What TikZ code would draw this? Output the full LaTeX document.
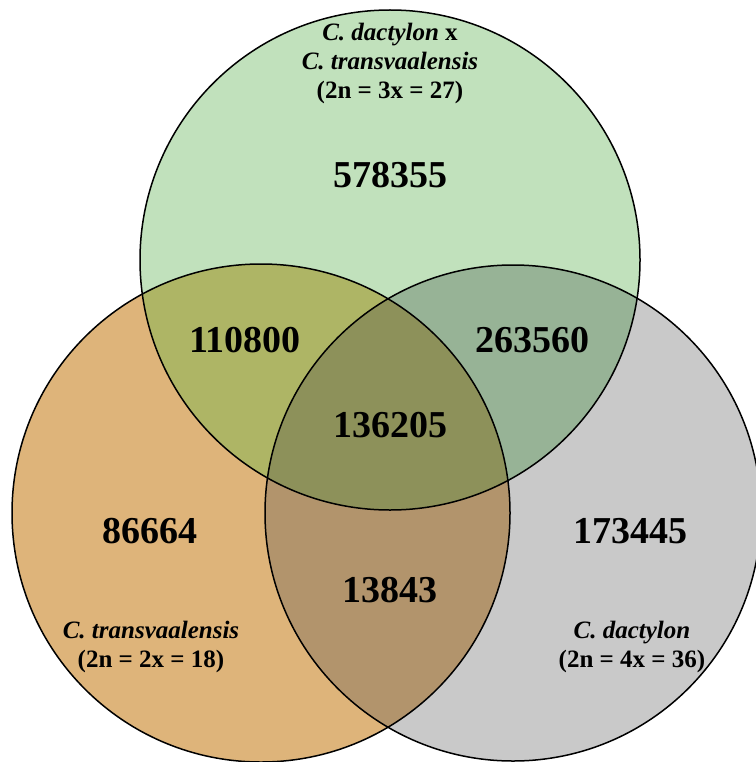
\documentclass[tikz,border=0pt]{standalone}
\usepackage{fontspec}
\setmainfont{Liberation Serif}
\usetikzlibrary{positioning}

\definecolor{cGreen}{RGB}{193,225,188}
\definecolor{cOrange}{RGB}{222,180,122}
\definecolor{cGray}{RGB}{201,201,201}
\definecolor{cGreenOrange}{RGB}{174,181,101}
\definecolor{cGreenGray}{RGB}{151,179,150}
\definecolor{cOrangeGray}{RGB}{178,148,108}
\definecolor{cAll}{RGB}{141,145,90}

\tikzset{
  count/.style={font=\bfseries\fontsize{38}{40}\selectfont},
  species/.style={font=\bfseries\fontsize{25}{29}\selectfont, align=center},
  rim/.style={draw=black, line width=1.5pt}
}

\begin{document}
\begin{tikzpicture}[x=1pt, y=-1pt]
    \useasboundingbox (0,0) rectangle (755,762);

    \coordinate (cTop)   at (390,260);
    \coordinate (cLeft)  at (261,513);
    \coordinate (cRight) at (513,513);

    \coordinate (l01) at (390,63);
    \coordinate (l02) at (390,175);
    \coordinate (l03) at (245,340);
    \coordinate (l04) at (532,340);
    \coordinate (l05) at (390,425);
    \coordinate (l06) at (150,531);
    \coordinate (l07) at (630,531);
    \coordinate (l08) at (390,590);
    \coordinate (l09) at (151,647);
    \coordinate (l10) at (632,647);

    \fill[cGreen]  (cTop)   circle (250pt);
    \fill[cOrange] (cLeft)  circle (249pt);
    \fill[cGray]   (cRight) circle (248pt);

    \begin{scope}
      \clip (cTop) circle (250pt);
      \fill[cGreenOrange] (cLeft) circle (249pt);
      \fill[cGreenGray] (cRight) circle (248pt);
    \end{scope}
    \begin{scope}
      \clip (cLeft) circle (249pt);
      \fill[cOrangeGray] (cRight) circle (248pt);
    \end{scope}
    \begin{scope}
      \clip (cTop) circle (250pt);
      \clip (cLeft) circle (249pt);
      \fill[cAll] (cRight) circle (248pt);
    \end{scope}

    \draw[rim] (cTop)   circle (250pt);
    \draw[rim] (cLeft)  circle (249pt);
    \draw[rim] (cRight) circle (248pt);

    \node[species] (hybrid) at (l01) {\textit{C. dactylon} x\\ \textit{C. transvaalensis}\\ (2n = 3x = 27)};
    \node[count] (nHybrid) at (l02) {578355};
    \node[count] (nHybTrans) at (l03) {110800};
    \node[count] (nHybDact) at (l04) {263560};
    \node[count] (nAll) at (l05) {136205};
    \node[count] (nTrans) at (l06) {86664};
    \node[count] (nDact) at (l07) {173445};
    \node[count] (nTransDact) at (l08) {13843};
    \node[species] (trans) at (l09) {\textit{C. transvaalensis}\\ (2n = 2x = 18)};
    \node[species] (dact) at (l10) {\textit{C. dactylon}\\ (2n = 4x = 36)};
\end{tikzpicture}
\end{document}
